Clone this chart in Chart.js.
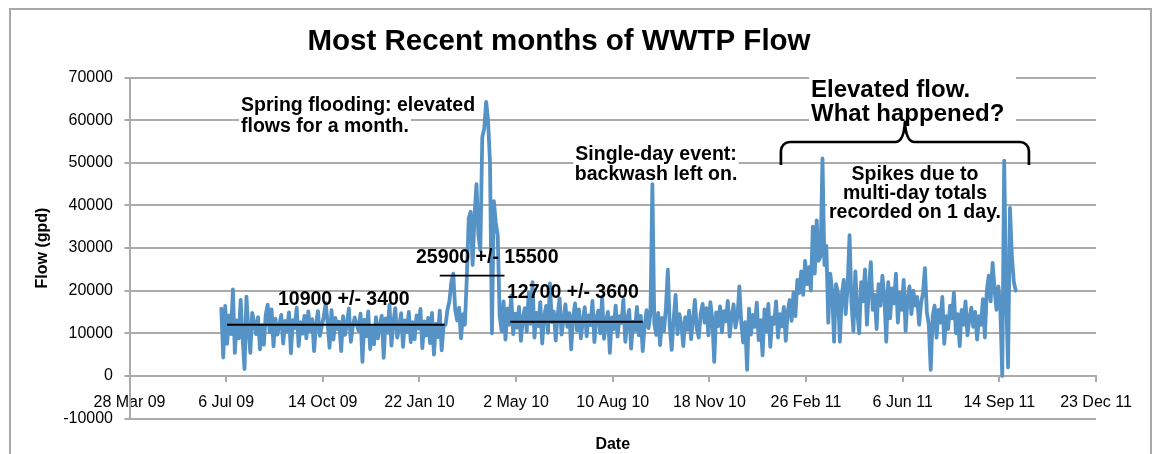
<!DOCTYPE html>
<html>
<head>
<meta charset="utf-8">
<title>Most Recent months of WWTP Flow</title>
<script src="https://cdn.jsdelivr.net/npm/chart.js@4.4.1/dist/chart.umd.min.js"></script>
<style>
  html, body { margin: 0; padding: 0; background: #fff; }
  #wrap { width: 1155px; height: 454px; }
</style>
</head>
<body>
<div id="wrap"><canvas id="flowChart" width="1155" height="454"></canvas></div>
<script>
// dates are Excel serial days (39900 = 28 Mar 2009)
const firstDay = 39995   // 1 Jul 2009
const dayStep = 2

// flow in gpd, one reading per dayStep
const flow = [
  15800, 4300, 16400, 7500, 14200, 9800, 20300, 5400, 13000, 8800,
  17800, 9000, 1600, 18600, 11000, 5400, 14800, 12500, 9800, 13800,
  6200, 11900, 7300, 14500, 16700, 10200, 15600, 6900, 13400, 9700,
  11800, 14300, 7600, 12900, 10400, 14900, 5300, 13100, 11200, 16000,
  7000, 12600, 9900, 14100, 8800, 15100, 10500, 13300, 5800, 12200,
  15200, 9400, 11700, 13900, 17100, 12400, 6600, 15400, 8500, 13600,
  11000, 12700, 5800, 14000, 9600, 12300, 15800, 8000, 11500, 13700,
  12100, 10600, 14600, 3300, 13200, 9300, 15100, 6300, 11400, 7400,
  13800, 8800, 12000, 14100, 4200, 13500, 10100, 16700, 7100, 12500,
  15900, 9000, 11300, 14700, 6800, 13000, 10300, 15000, 7900, 12600,
  8600, 14200, 11100, 15700, 6500, 12800, 9500, 13600, 7700, 14800,
  5000, 12200, 9100, 15300, 6000, 11800, 12000, 15500, 17500, 22000,
  24000, 15500, 13000, 16000, 8800, 14500, 12000, 23000, 37000, 38500,
  26000, 37500, 45000, 33000, 29500, 56000, 58000, 64300, 60000, 50000,
  10000, 41000, 36000, 33000, 14000, 10500, 17500, 8500, 15800, 12000,
  18800, 9800, 14600, 11300, 16200, 8200, 13500, 15900, 10400, 19500,
  12200, 22000, 9000, 14800, 11700, 17300, 7600, 13900, 16400, 10100,
  21700, 12600, 15100, 8300, 14300, 18200, 9700, 13000, 16800, 11500,
  14700, 6200, 13800, 17000, 10700, 15600, 8800, 12900, 16100, 9300,
  14200, 11900, 17600, 7900, 13400, 15300, 10000, 18400, 8700, 12800,
  15000, 5400, 13700, 11000, 16500, 9200, 14000, 12400, 17900, 8000,
  13300, 15500, 6400, 12700, 10600, 16200, 9500, 14100, 5800, 11800,
  15400, 11200, 14600, 45000, 12300, 9600, 14800, 7200, 13600, 10500,
  16000, 24900, 11500, 6100, 13200, 19000, 9800, 14500, 12000, 7000,
  13800, 10800, 15300, 8600, 12900, 17800, 11000, 9000, 14600, 16900,
  12500, 15900, 9500, 17300, 13400, 3300, 14900, 11700, 16300, 10200,
  15200, 12800, 17600, 9200, 14100, 16800, 11300, 13900, 21000, 12400,
  7800, 12600, 1400, 15800, 9700, 14300, 11500, 17200, 8400, 13100,
  4800, 15600, 10400, 16900, 6800, 13700, 12200, 17500, 9000, 14500,
  11600, 16200, 8200, 15000, 17800, 12900, 19500, 14000, 22500, 19500,
  24500, 19000, 27000, 21500, 25500, 20000, 35000, 24000, 36500, 27000,
  28000, 51000, 26000, 30500, 12500, 24000, 20000, 8000, 21500, 19500,
  8000, 19000, 22500, 14500, 21000, 33000, 17000, 10500, 24500, 15000,
  10000, 22000, 17500, 25000, 12000, 20500, 26700, 15500, 19000, 11000,
  21500, 16500, 23500, 18500, 8000, 22000, 13500, 20500, 17000, 24000,
  12500, 19500, 15500, 22500, 10500, 18000, 21000, 14500, 20000, 16500,
  18500, 12000, 17000, 19500, 25300, 15000, 12000, 1400, 14000, 16500,
  9000, 15500, 12500, 18500, 7500, 14000, 11000, 16500, 13500, 19500,
  10000, 14500, 7000, 15500, 12000, 17500, 9500, 13500, 16000, 11500,
  15000, 8500, 14000, 12000, 18000, 9000, 20000, 23500, 17500, 26500,
  20500, 15500, 21000, 16000, 0, 50500, 19000, 2000, 39400, 28000,
  22000, 20000
]

// averages drawn as flat lines
const meanLevel = [12000, 23500, 12700]
const meanFrom = [40001, 40221, 40294]
const meanTo = [40226, 40288, 40431]

// axis ranges
const dayMin = 39900, dayMax = 40900, dayTick = 100
const flowMin = -10000, flowMax = 70000, flowTick = 10000

const MONTHS = ['Jan', 'Feb', 'Mar', 'Apr', 'May', 'Jun', 'Jul', 'Aug', 'Sep', 'Oct', 'Nov', 'Dec']
function dayLabel(v) {
    const d = new Date(Date.UTC(1899, 11, 30) + v * 86400000)
    return d.getUTCDate() + ' ' + MONTHS[d.getUTCMonth()] + ' ' + String(d.getUTCFullYear()).slice(2)
}

// callouts, anchored in data units (x = day, y = gpd of first line)
const notes = [
    { lines: ['Spring flooding: elevated', 'flows for a month.'], x: 40015.4, y: 63300, align: 'left', size: 19.5, gap: 21, bg: true },
    { lines: ['10900 +/- 3400'], x: 40053.6, y: 17800, align: 'left', size: 19.5 },
    { lines: ['25900 +/- 15500'], x: 40196.4, y: 27660, align: 'left', size: 19.5 },
    { lines: ['12700 +/- 3600'], x: 40290.6, y: 19450, align: 'left', size: 19.5 },
    { lines: ['Single-day event:', 'backwash left on.'], x: 40444.8, y: 51830, align: 'center', size: 19.5, gap: 20, bg: true },
    { lines: ['Elevated flow.', 'What happened?'], x: 40605.1, y: 67070, align: 'left', size: 24, gap: 24, bg: true, bgW: 207, bgTop: 3 },
    { lines: ['Spikes due to', 'multi-day totals', 'recorded on 1 day.'], x: 40712.7, y: 47140, align: 'center', size: 19.5, gap: 19, bg: true }
]
const brace = { from: 40574, to: 40830.6, mid: 40702.3, bar: 54870, ends: 49470, tip: 59570 }

const FONT = '"Liberation Sans", Arial, Helvetica, sans-serif'
const gridGray = '#ababab'

function noteBoxes(chart, note, cb) {
    const xs = chart.scales.x, ys = chart.scales.y
    const x = xs.getPixelForValue(note.x)
    const y0 = ys.getPixelForValue(note.y)
    note.lines.forEach((line, i) => cb(line, x, y0 + i * (note.gap || 0)))
}

const notesPlugin = {
    id: 'notes',
    beforeDraw(chart) {
        const ctx = chart.ctx
        ctx.save()
        ctx.fillStyle = '#fff'
        ctx.fillRect(0, 0, chart.width, chart.height)
        ctx.strokeStyle = '#a8a8a8'
        ctx.lineWidth = 2
        ctx.strokeRect(10, 9, 1141, 470)
        ctx.restore()
    },
    beforeDatasetsDraw(chart) {
        const ctx = chart.ctx
        ctx.save()
        ctx.fillStyle = '#fff'
        notes.filter(n => n.bg).forEach(n => {
            ctx.font = `bold ${n.size}px ${FONT}`
            noteBoxes(chart, n, (line, x, y) => {
                const w = n.bgW || ctx.measureText(line).width + 4
                const left = n.align === 'center' ? x - w / 2 : x - 2
                const top = y - n.size / 2 - (n.bgTop || 0)
                ctx.fillRect(left, top, w, n.size + (n.bgTop || 0))
            })
        })
        ctx.restore()
    },
    afterDraw(chart) {
        const ctx = chart.ctx
        ctx.save()
        ctx.fillStyle = '#000'
        ctx.textBaseline = 'middle'
        notes.forEach(n => {
            ctx.font = `bold ${n.size}px ${FONT}`
            ctx.textAlign = n.align
            noteBoxes(chart, n, (line, x, y) => ctx.fillText(line, x, y))
        })

        // curly brace over the elevated period
        const xs = chart.scales.x, ys = chart.scales.y
        const x0 = xs.getPixelForValue(brace.from), x1 = xs.getPixelForValue(brace.to)
        const xm = xs.getPixelForValue(brace.mid)
        const yb = ys.getPixelForValue(brace.bar), ye = ys.getPixelForValue(brace.ends)
        const yt = ys.getPixelForValue(brace.tip)
        const r = 9
        ctx.strokeStyle = '#000'
        ctx.lineWidth = 2.7
        ctx.lineJoin = 'round'
        ctx.beginPath()
        ctx.moveTo(x0, ye)
        ctx.arcTo(x0, yb, x0 + r, yb, r)
        ctx.lineTo(xm - 9, yb)
        ctx.quadraticCurveTo(xm - 1, yb - 1, xm, yt)
        ctx.quadraticCurveTo(xm + 1, yb - 1, xm + 9, yb)
        ctx.lineTo(x1 - r, yb)
        ctx.arcTo(x1, yb, x1, ye, r)
        ctx.lineTo(x1, ye)
        ctx.stroke()
        ctx.restore()
    }
}

Chart.defaults.font.family = FONT
Chart.defaults.color = '#000'

const meanSets = meanLevel.map((lvl, i) => ({
    data: [{ x: meanFrom[i], y: lvl }, { x: meanTo[i], y: lvl }],
    borderColor: '#000',
    borderWidth: 1.8,
    pointRadius: 0,
    order: 0
}))

new Chart(document.getElementById('flowChart'), {
    type: 'line',
    data: {
        datasets: [
            ...meanSets,
            {
                label: 'Flow (gpd)',
                data: flow.map((v, i) => ({ x: firstDay + i * dayStep, y: v })),
                borderColor: '#5592c6',
                borderWidth: 3.8,
                borderJoinStyle: 'round',
                borderCapStyle: 'round',
                pointRadius: 0,
                tension: 0,
                order: 1
            }
        ]
    },
    options: {
        responsive: false,
        animation: false,
        layout: { padding: { left: 22, right: 59, top: 0, bottom: 35.5 } },
        plugins: {
            legend: { display: false },
            tooltip: { enabled: false },
            title: {
                display: true,
                text: 'Most Recent months of WWTP Flow',
                color: '#000',
                font: { size: 29.5, weight: 'bold' },
                padding: { top: 24, bottom: 18.1 }
            }
        },
        scales: {
            x: {
                type: 'linear',
                position: { y: 0 },
                min: dayMin,
                max: dayMax,
                ticks: {
                    stepSize: dayTick,
                    callback: v => dayLabel(v),
                    font: { size: 16 },
                    padding: 12,
                    maxRotation: 0,
                    autoSkip: false
                },
                grid: { drawOnChartArea: false, tickLength: 5, color: gridGray, lineWidth: 2 },
                border: { color: gridGray, width: 2 },
                title: { display: true, text: 'Date', font: { size: 16, weight: 'bold' }, padding: { top: 11, bottom: 0 } }
            },
            y: {
                min: flowMin,
                max: flowMax,
                ticks: { stepSize: flowTick, callback: v => String(v), font: { size: 16 }, padding: 11.5 },
                grid: { color: gridGray, lineWidth: 2, tickLength: 5 },
                border: { color: gridGray, width: 2 },
                title: { display: true, text: 'Flow (gpd)', font: { size: 16, weight: 'bold' }, padding: { top: 11.4, bottom: 0 } },
                afterFit(scale) { scale.width = 107.5 }
            }
        }
    },
    plugins: [notesPlugin]
})
</script>
</body>
</html>
